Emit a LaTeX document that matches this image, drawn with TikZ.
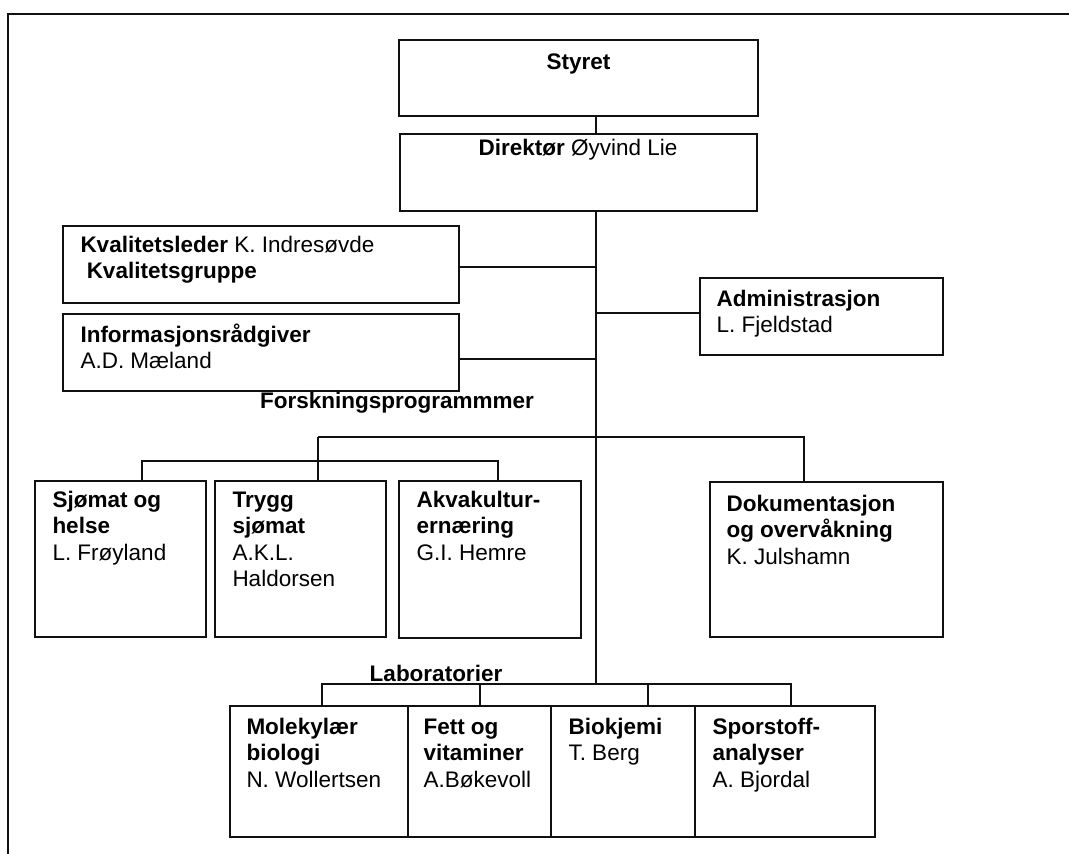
\documentclass[tikz,border=0pt]{standalone}
\usepackage{fontspec}
\setsansfont{Liberation Sans}
\usetikzlibrary{positioning}
\definecolor{clrborder}{HTML}{111111}
\definecolor{clrtext}{HTML}{000000}
\newcommand{\boxlines}[1]{\begin{tabular}[t]{@{}l@{}}#1\end{tabular}}

\begin{document}
\begin{tikzpicture}[
    x=0.5pt, y=-0.5pt,
    every node/.style={font=\sffamily\fontsize{11.25}{13.25}\selectfont, text=clrtext},
    block/.style={draw=clrborder, line width=0.9pt, inner sep=0pt, minimum height=38.5pt},
    boxtext/.style={inner sep=0pt, anchor=base west},
    heading/.style={inner sep=0pt, anchor=base, font=\sffamily\bfseries\fontsize{11.25}{13.25}\selectfont},
    conn/.style={draw=clrborder, line width=0.7pt},
    frame/.style={draw=clrborder, line width=1pt},
]
\useasboundingbox (0,0) rectangle (1069,854);
\draw[frame] (1069,14) -- (8,14) -- (8,854);
% top of the chart
\node[block, minimum width=179.5pt, minimum height=38pt] (n_styret) at (578.5,78) {};
\node[block, minimum width=178.5pt, below=8pt of n_styret] (n_direktor) {};
\node[heading] (t_styret) at (578.5,70) {Styret};
\node[inner sep=0pt, anchor=base] (t_direktor) at (578,156) {\textbf{Direktør} Øyvind Lie};
% staff
\node[block, minimum width=198pt] (n_kval) at (261,264.5) {};
\node[block, minimum width=198pt] (n_info) at (261,352.5) {};
\node[block, minimum width=121.5pt] (n_admin) at (821.5,316.5) {};
\node[boxtext] (t_kval) at ([xshift=9pt, yshift=-13.5pt]n_kval.north west) {\boxlines{\textbf{Kvalitetsleder} K. Indresøvde\\ \ \textbf{Kvalitetsgruppe}}};
\node[boxtext] (t_info) at ([xshift=9pt, yshift=-14.5pt]n_info.north west) {\boxlines{\textbf{Informasjonsrådgiver}\\A.D. Mæland}};
\node[boxtext] (t_admin) at ([xshift=8.5pt, yshift=-14.5pt]n_admin.north west) {\boxlines{\textbf{Administrasjon}\\L. Fjeldstad}};
% research programmes
\node[heading] (t_forsk) at (397,409) {Forskningsprogrammmer};
\node[block, minimum width=85.5pt, minimum height=78pt] (n_sjomat) at (120.5,559) {};
\node[block, minimum width=85.5pt, minimum height=78pt] (n_trygg) at (300.5,559) {};
\node[block, minimum width=91pt, minimum height=78.5pt] (n_akva) at (490,559.5) {};
\node[block, minimum width=116.5pt, minimum height=77.5pt] (n_dok) at (826.5,559.5) {};
\node[boxtext] (t_sjomat) at ([xshift=9pt, yshift=-13.5pt]n_sjomat.north west) {\boxlines{\textbf{Sjømat og}\\\textbf{helse}\\L. Frøyland}};
\node[boxtext] (t_trygg) at ([xshift=9pt, yshift=-13.5pt]n_trygg.north west) {\boxlines{\textbf{Trygg}\\\textbf{sjømat}\\A.K.L.\\Haldorsen}};
\node[boxtext] (t_akva) at ([xshift=9pt, yshift=-13.5pt]n_akva.north west) {\boxlines{\textbf{Akvakultur-}\\\textbf{ernæring}\\G.I. Hemre}};
\node[boxtext] (t_dok) at ([xshift=8.5pt, yshift=-15pt]n_dok.north west) {\boxlines{\textbf{Dokumentasjon}\\\textbf{og overvåkning}\\K. Julshamn}};
% laboratories
\node[heading] (t_lab) at (436,681) {Laboratorier};
\node[block, minimum width=89pt, minimum height=65.5pt] (n_molek) at (319,771.5) {};
\node[block, minimum width=71.5pt, minimum height=65.5pt] (n_fett) at (479.5,771.5) {};
\node[block, minimum width=72pt, minimum height=65.5pt] (n_biokj) at (623,771.5) {};
\node[block, minimum width=90pt, minimum height=65.5pt] (n_spor) at (785,771.5) {};
\node[boxtext] (t_molek) at ([xshift=8.5pt, yshift=-14.5pt]n_molek.north west) {\boxlines{\textbf{Molekylær}\\\textbf{biologi}\\N. Wollertsen}};
\node[boxtext] (t_fett) at ([xshift=8pt, yshift=-14.5pt]n_fett.north west) {\boxlines{\textbf{Fett og}\\\textbf{vitaminer}\\A.Bøkevoll}};
\node[boxtext] (t_biokj) at ([xshift=9pt, yshift=-14.5pt]n_biokj.north west) {\boxlines{\textbf{Biokjemi}\\T. Berg}};
\node[boxtext] (t_spor) at ([xshift=9pt, yshift=-14.5pt]n_spor.north west) {\boxlines{\textbf{Sporstoff-}\\\textbf{analyser}\\A. Bjordal}};
% junctions
\coordinate (c_trunk) at (596,437);
\coordinate (c_res) at (318,437);
\coordinate (c_dok) at (804,437);
\coordinate (c_sub_l) at (142,461);
\coordinate (c_sub_r) at (498,461);
\coordinate (c_lab) at (596,684);
\coordinate (c_lab_l) at (322,684);
\coordinate (c_lab_2) at (480,684);
\coordinate (c_lab_3) at (648,684);
\coordinate (c_lab_r) at (791,684);
\draw[conn] (n_styret.south -| c_trunk) -- (n_direktor.north -| c_trunk);
\draw[conn] (n_direktor.south -| c_trunk) -- (c_lab);
\draw[conn] ([yshift=-1.25pt]n_kval.east) -- ([yshift=-1.25pt]n_kval.east -| c_trunk);
\draw[conn] ([yshift=-3.25pt]n_info.east) -- ([yshift=-3.25pt]n_info.east -| c_trunk);
\draw[conn] ([yshift=1.75pt]n_admin.west) -- ([yshift=1.75pt]n_admin.west -| c_trunk);
\draw[conn] (c_res) -- (c_dok) -- (c_dok |- n_dok.north);
\draw[conn] (c_res) -- (c_res |- n_trygg.north);
\draw[conn] (c_sub_l |- n_sjomat.north) -- (c_sub_l) -- (c_sub_r) -- (c_sub_r |- n_akva.north);
\draw[conn] (c_lab_l |- n_molek.north) -- (c_lab_l) -- (c_lab_r) -- (c_lab_r |- n_spor.north);
\draw[conn] (c_lab_2) -- (c_lab_2 |- n_fett.north);
\draw[conn] (c_lab_3) -- (c_lab_3 |- n_biokj.north);
\end{tikzpicture}
\end{document}
